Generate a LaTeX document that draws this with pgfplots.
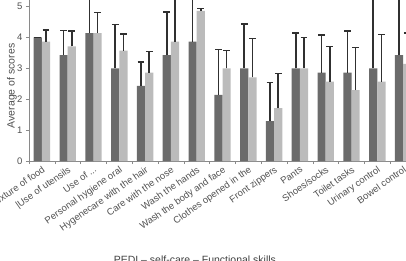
\documentclass[border=0pt]{standalone}
\usepackage{pgfplots}
\usepackage{pgfplotstable}
\pgfplotsset{compat=1.18}
\usepackage{fontspec}
\setmainfont{Liberation Sans}

\definecolor{darkbar}{HTML}{6B6B6B}
\definecolor{lightbar}{HTML}{BBBBBB}
\definecolor{errcol}{HTML}{303030}
\definecolor{axiscol}{HTML}{8A8A8A}
\definecolor{labcol}{HTML}{505050}

% Mean PEDI self-care scores with their standard deviations (upper whisker only)
\pgfplotstableread{
cat dark darkerr light lighterr
1  4.00 0.00 3.86 0.38
2  3.43 0.79 3.71 0.49
3  4.14 1.30 4.14 0.67
4  3.00 1.41 3.57 0.54
5  2.43 0.78 2.86 0.68
6  3.43 1.40 3.86 1.50
7  3.86 1.50 4.86 0.08
8  2.14 1.47 3.00 0.57
9  3.00 1.44 2.71 1.26
10 1.29 1.25 1.71 1.12
11 3.00 1.15 3.00 0.99
12 2.86 1.22 2.57 1.14
13 2.86 1.35 2.29 1.38
14 3.00 2.30 2.57 1.53
15 3.43 1.90 3.14 1.00
}\pedi

\pgfplotsset{
  sdbar/.style={
    error bars/.cd, y dir=plus, y explicit,
    error bar style={errcol, line width=1.7pt},
    error mark options={errcol, rotate=90, line width=1.5pt, mark size=3.4pt},
  },
}

\begin{document}
\begin{tikzpicture}
\path[use as bounding box, clip] (0,0) rectangle (406pt,260pt);
\begin{axis}[
  at={(29pt,99pt)}, anchor=south west,
  x=25.8pt, y=30.9pt,
  xmin=0.5, xmax=15.5, ymin=0, ymax=6,
  axis lines*=left,
  axis line style={axiscol, line width=0.8pt},
  ybar=0pt, bar width=8.2pt,
  xtick={0.5,1.5,...,15.5},
  x tick label as interval,
  xticklabels={Texture of food,{|Use of utensils},{Use of .{}.{}.},Personal hygiene oral,Hygenecare with the hair,Care with the nose,Wash the hands,Wash the body and face,Clothes opened in the,Front zippers,Pants,Shoes/socks,Toilet tasks,Urinary control,Bowel control},
  xticklabel style={rotate=35, anchor=north east, inner sep=1pt,
    font=\fontsize{9.5}{10}\selectfont, text=labcol},
  ytick={0,...,6},
  yticklabel style={font=\fontsize{9.5}{10}\selectfont, text=labcol},
  /pgf/number format/assume math mode=true,
  tick align=outside,
  major tick length=3pt,
  tick style={axiscol, line width=0.6pt},
  ylabel={Average of scores},
  ylabel style={at={(axis description cs:-0.044,0.405)}, anchor=center,
    font=\fontsize{10.5}{12}\selectfont, text=labcol},
  xlabel={PEDI -- self-care -- Functional skills},
  xlabel style={at={(axis cs:6.93,0)}, anchor=base, yshift=-102pt,
    font=\fontsize{10.5}{12}\selectfont, text=labcol!80!black},
]
\addplot[fill=darkbar, draw=none, sdbar]
  table[x=cat, y=dark, y error=darkerr] {\pedi};
\addplot[fill=lightbar, draw=none, sdbar]
  table[x=cat, y=light, y error=lighterr] {\pedi};
\end{axis}
\end{tikzpicture}
\end{document}
